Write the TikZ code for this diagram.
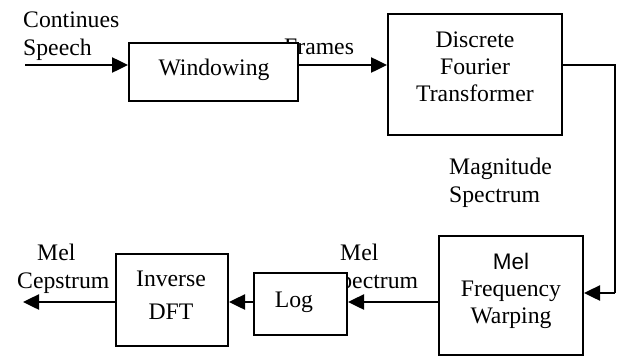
\documentclass[tikz,border=0pt]{standalone}
\usepackage{fontspec}
\setmainfont{Liberation Serif}
\newfontfamily\melsans{Liberation Sans}
\usetikzlibrary{arrows.meta}
\tikzset{
  blockbox/.style={draw, line width=2pt, fill=white, inner sep=0pt},
  blocktext/.style={anchor=base, align=center, inner sep=0pt,
    font=\fontsize{23.7}{27}\selectfont},
  sidetext/.style={anchor=base west, align=left, inner sep=0pt,
    font=\fontsize{23.7}{27.5}\selectfont},
  flow/.style={line width=2.5pt, -{Triangle[length=16pt,width=15pt]}},
  wire/.style={line width=2.5pt}
}
\begin{document}
\begin{tikzpicture}[x=1pt,y=-1pt]
\useasboundingbox (0,0) rectangle (617,356);

% signal labels (drawn first so the white blocks can overlap them);
% multi-line nodes are placed by the baseline of their last line
\node[sidetext] (lin) at (23,55) {Continues\\Speech};
\node[sidetext] (lframes) at (284,54) {Frames};
\node[sidetext] (lmag) at (449,202) {Magnitude\\Spectrum};
\node[sidetext] (lmelspec) at (327,288) {\hspace{13pt}Mel\\Spectrum};
\node[sidetext] (lceps) at (17,288) {\hspace{20pt}Mel\\Cepstrum};

% processing blocks
\node[blockbox, minimum width=169pt, minimum height=58pt]  (win)  at (213.5,72)  {};
\node[blockbox, minimum width=174pt, minimum height=121pt] (dft)  at (475,74.5)  {};
\node[blockbox, minimum width=144pt, minimum height=119pt] (mfw)  at (511,295.5) {};
\node[blockbox, minimum width=93pt,  minimum height=62pt]  (log)  at (300.5,304) {};
\node[blockbox, minimum width=112pt, minimum height=92pt]  (idft) at (172,300)   {};

% block captions
\node[blocktext] (win-t)  at (214,75)  {Windowing};
\node[blocktext] (dft-t)  at (475,101) {Discrete\\Fourier\\Transformer};
\node[blocktext] (mfw-t)  at (511,323) {{\melsans\fontsize{22.5}{27}\selectfont Mel}\\Frequency\\Warping};
\node[blocktext] (log-t)  at (294,307) {Log};
\node[blocktext] (idft-t) at (171,319) {Inverse\\[6pt]DFT};

% connection levels
\coordinate (in)   at (25,65);
\coordinate (turn) at (615,65);
\coordinate (back) at (615,293);
\coordinate (low)  at (0,302);
\coordinate (out)  at (23,302);

% signal flow
\draw[flow] (in) -- (win.west |- in);
\draw[flow] (win.east |- in) -- (dft.west |- in);
\draw[wire] (dft.east |- in) -- (turn) -- (back);
\draw[flow] (back) -- (mfw.east |- back);
\draw[flow] (mfw.west |- low) -- (log.east |- low);
\draw[flow] (log.west |- low) -- (idft.east |- low);
\draw[flow] (idft.west |- low) -- (out);
\end{tikzpicture}
\end{document}
